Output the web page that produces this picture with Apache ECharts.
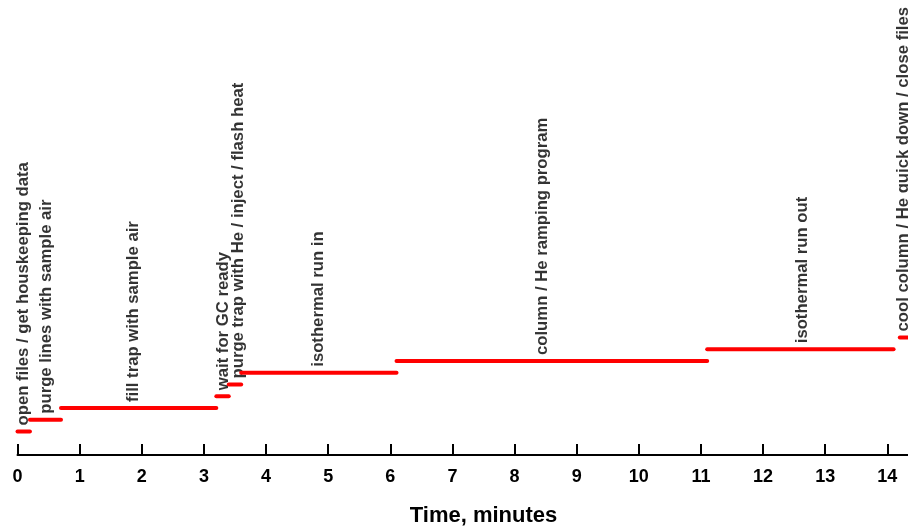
<!DOCTYPE html>
<html>
<head>
<meta charset="utf-8">
<script src="https://cdn.jsdelivr.net/npm/echarts@6/dist/echarts.min.js"></script>
<style>
  html, body { margin: 0; padding: 0; background: #fff; }
  #main { width: 908px; height: 526px; }
</style>
</head>
<body>
<div id="main"></div>
<script>
// steps of the run, minutes
var stepNames = [
    'open files / get houskeeping data',
    'purge lines with sample air',
    'fill trap with sample air',
    'wait for GC ready',
    'purge trap with He / inject / flash heat',
    'isothermal run in',
    'column / He ramping program',
    'isothermal run out',
    'cool column / He quick down / close files'
];
var stepStart = [0, 0.2, 0.7, 3.2, 3.4, 3.6, 6.1, 11.1, 14.2];
var stepEnd   = [0.2, 0.7, 3.2, 3.4, 3.6, 6.1, 11.1, 14.1, 14.5];
var stepLevel = [1, 2, 3, 4, 5, 6, 7, 8, 9];
var labelAt   = [0.09, 0.47, 1.86, 3.31, 3.55, 4.84, 8.44, 12.64, 14.25];
var tickLabels = ['0','1','2','3','4','5','6','7','8','9','10','11','12','13','14','15'];

var myChart = echarts.init(document.getElementById('main'));

var series = [];
for (var i = 0; i < stepNames.length; i++) {
    series.push({
        type: 'line',
        symbol: 'none',
        silent: true,
        clip: true,
        lineStyle: { color: '#ff0000', width: 4, cap: 'round' },
        data: [[stepStart[i], stepLevel[i]], [stepEnd[i], stepLevel[i]]]
    });
}
var labelData = [];
for (var j = 0; j < stepNames.length; j++) {
    labelData.push({ value: [labelAt[j], stepLevel[j]], name: stepNames[j] });
}
series.push({
    type: 'scatter',
    symbolSize: 0,
    silent: true,
    data: labelData,
    label: {
        show: true,
        position: 'top',
        distance: 6,
        rotate: 90,
        align: 'left',
        verticalAlign: 'middle',
        color: '#000',
        fontFamily: 'Liberation Sans, Arial, sans-serif',
        fontWeight: 'bold',
        fontSize: 16.7,
        formatter: function (p) { return p.name; }
    }
});

option = {
    backgroundColor: '#FFFFFF',
    animation: false,
    grid: {
        left: 17.5,
        width: 932,     // axis runs to 15, past the right edge
        top: 8.5,
        height: 446.5,
        containLabel: false,
        outerBoundsMode: 'none'
    },
    xAxis: {
        type: 'value',
        min: 0,
        max: 15,
        interval: 1,
        name: 'Time, minutes',
        nameLocation: 'middle',
        nameGap: 50,
        nameTextStyle: {
            color: '#000',
            fontFamily: 'Liberation Sans, Arial, sans-serif',
            fontWeight: 'bold',
            fontSize: 22
        },
        axisLine: { onZero: false, lineStyle: { color: '#000', width: 2 } },
        axisTick: { inside: true, length: 11, lineStyle: { color: '#000', width: 2 } },
        axisLabel: {
            margin: 13,
            color: '#000',
            fontFamily: 'Liberation Sans, Arial, sans-serif',
            fontWeight: 'bold',
            fontSize: 18,
            formatter: function (v) { return tickLabels[Math.round(v)]; }
        },
        splitLine: { show: false }
    },
    yAxis: {
        type: 'value',
        min: -1,
        max: 37,
        show: false,
        splitLine: { show: false }
    },
    series: series
};
myChart.setOption(option, true);
</script>
</body>
</html>
